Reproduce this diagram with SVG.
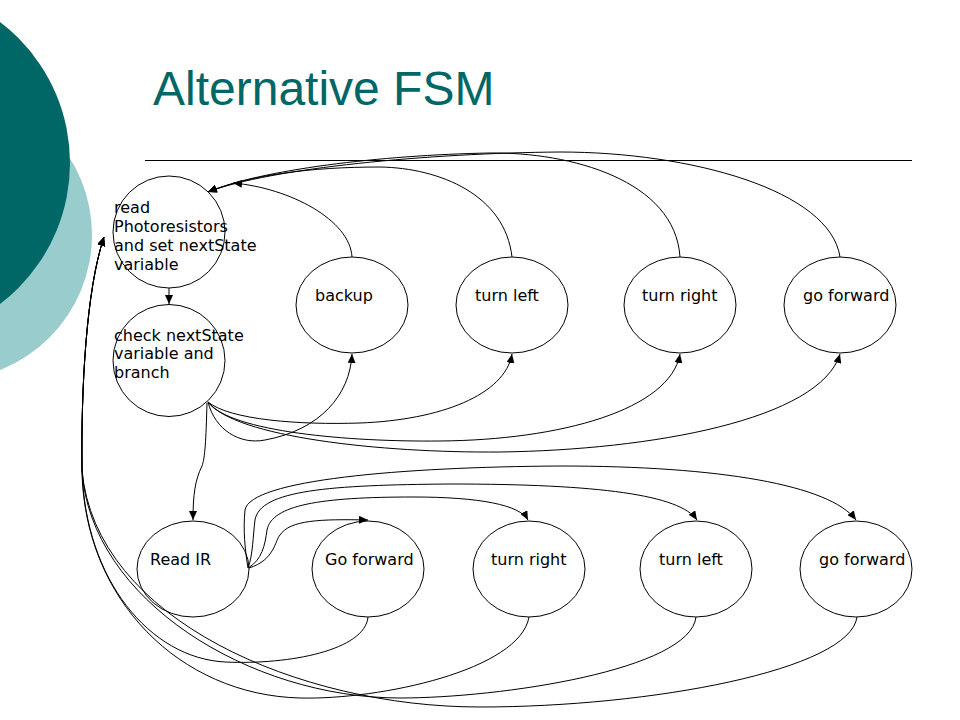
<svg xmlns="http://www.w3.org/2000/svg" width="960" height="720" viewBox="0 0 960 720">
<defs>
<marker id="ah" markerUnits="userSpaceOnUse" markerWidth="9" markerHeight="8" refX="9" refY="4" orient="auto">
<path d="M0,0 L9,4 L0,8 z" fill="#000"/>
</marker>
<style>
.n{fill:#fff;stroke:#000;stroke-width:1}
.t{font-family:"DejaVu Sans","Verdana",sans-serif;font-size:16px;fill:#000}
.c path{fill:none;stroke:#000;stroke-width:1}
.a{marker-end:url(#ah)}
</style>
</defs>
<rect width="960" height="720" fill="#fff"/>
<circle cx="-53" cy="235" r="145" fill="#99CCCC"/>
<circle cx="-107" cy="163" r="177" fill="#006666"/>
<text x="153" y="105" font-family="Liberation Sans, Arial, sans-serif" font-size="48" fill="#006666">Alternative FSM</text>
<line x1="145" y1="160.5" x2="912" y2="160.5" stroke="#000" stroke-width="1"/>

<g id="n-read-photo"><ellipse class="n" cx="169" cy="232" rx="56" ry="56"/>
<text class="t" x="114" y="213">read</text><text class="t" x="114" y="232">Photoresistors</text><text class="t" x="114" y="251">and set nextState</text><text class="t" x="114" y="270">variable</text></g>
<g id="n-check"><ellipse class="n" cx="169" cy="360.5" rx="56" ry="56"/>
<text class="t" x="114" y="341">check nextState</text><text class="t" x="114" y="359">variable and</text><text class="t" x="114" y="378">branch</text></g>
<g id="n-backup"><ellipse class="n" cx="352" cy="305" rx="56" ry="48"/><text class="t" x="315" y="301">backup</text></g>
<g id="n-turnleft1"><ellipse class="n" cx="512" cy="305" rx="56" ry="48"/><text class="t" x="475" y="301">turn left</text></g>
<g id="n-turnright1"><ellipse class="n" cx="680" cy="305" rx="56" ry="48"/><text class="t" x="642" y="301">turn right</text></g>
<g id="n-goforward1"><ellipse class="n" cx="840" cy="305" rx="56" ry="48"/><text class="t" x="803" y="301">go forward</text></g>
<g id="n-readir"><ellipse class="n" cx="193" cy="569" rx="56" ry="48"/><text class="t" x="150" y="565">Read IR</text></g>
<g id="n-goforward2"><ellipse class="n" cx="368" cy="569" rx="56" ry="48"/><text class="t" x="325" y="565">Go forward</text></g>
<g id="n-turnright2"><ellipse class="n" cx="529" cy="569" rx="56" ry="48"/><text class="t" x="491" y="565">turn right</text></g>
<g id="n-turnleft2"><ellipse class="n" cx="696" cy="569" rx="56" ry="48"/><text class="t" x="659" y="565">turn left</text></g>
<g id="n-goforward3"><ellipse class="n" cx="856" cy="569" rx="56" ry="48"/><text class="t" x="819" y="565">go forward</text></g>

<g id="connectors" class="c">
<path class="a" d="M169,288 L169,304"/>
<path class="a" d="M352,257 C350,220 290,188 233,183"/>
<path class="a" d="M512,257 C505,195 440,168 380,167 C310,167 250,175 208,192"/>
<path class="a" d="M680,257 C675,180 570,152 490,153 C380,155 260,170 208,192"/>
<path class="a" d="M840,257 C830,190 690,152 560,152 C430,153 270,168 208,192"/>
<path class="a" d="M208,402 C215,430 240,445 265,440 C320,430 350,395 352,354"/>
<path class="a" d="M208,402 C230,420 300,425 360,423 C440,420 505,395 512,354"/>
<path class="a" d="M208,402 C230,432 350,442 440,441 C560,440 670,410 680,354"/>
<path class="a" d="M208,402 C235,437 380,453 500,452 C650,450 820,420 840,354"/>
<path class="a" d="M207,403 C206,440 205,458 202,466 C195,480 193,495 193,520"/>
<path class="a" d="M249,568 C275,560 275,540 280,535 C290,520 320,519 368,520"/>
<path class="a" d="M248,568 C262,560 265,545 267,530 C272,505 320,497 413,497 C480,497 520,505 528,520"/>
<path class="a" d="M248,568 C253,555 253,535 255,520 C260,490 330,485 450,484 C600,484 680,495 697,520"/>
<path class="a" d="M248,568 C245,550 243,530 245,510 C250,480 400,467 560,466 C720,466 830,485 856,520"/>
<path class="a" d="M368,617 C365,650 290,665 225,662 C150,658 85,580 82,470 C81,390 86,290 104,237"/>
<path class="a" d="M529,617 C520,670 380,700 300,698 C180,695 84,600 82,470 C81,390 86,290 104,237"/>
<path class="a" d="M696,617 C690,670 500,698 400,698 C250,698 90,600 82,470 C81,390 86,290 104,237"/>
<path class="a" d="M857,617 C850,670 650,707 480,707 C300,707 95,620 82,470 C81,390 86,290 104,237"/>
</g>
</svg>
